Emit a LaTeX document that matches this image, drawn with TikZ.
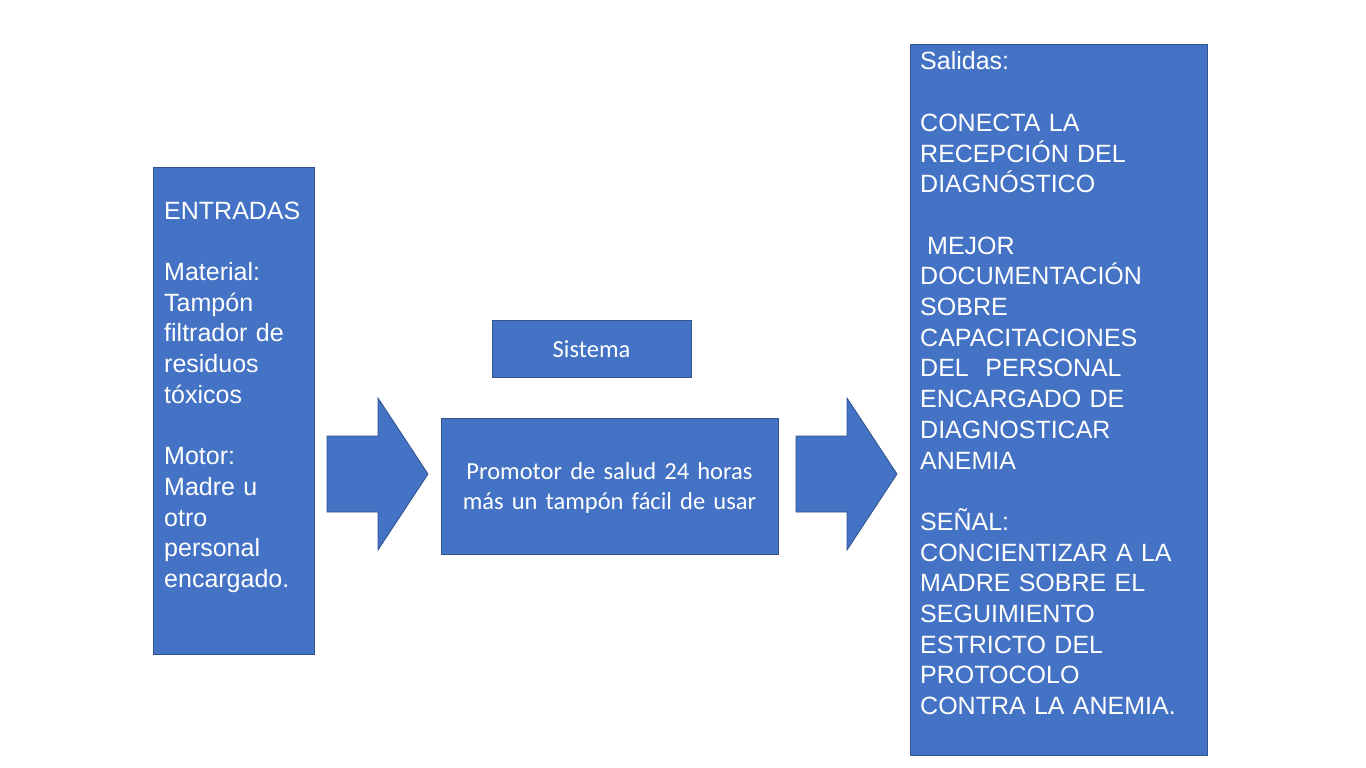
\documentclass[tikz,border=0pt]{standalone}
\usepackage{fontspec}
\newfontfamily\arialf{Liberation Sans}
\newfontfamily\calibf{Carlito}
\definecolor{boxfill}{HTML}{4472C4}
\definecolor{boxline}{HTML}{2F528F}
\tikzset{
  box/.style={draw=boxline, fill=boxfill, line width=1pt, inner sep=0pt, anchor=north west},
  atxt/.style={text=white, inner sep=0pt, anchor=base west, align=left,
     font={\arialf\fontsize{25}{30.7}\selectfont}},
  ctxt/.style={text=white, inner sep=0pt, font={\calibf\fontsize{24.5}{30}\selectfont}},
  blockarrow/.style={fill=boxfill, draw=boxline, line width=0.8pt, line join=miter}
}
\begin{document}
\begin{tikzpicture}[x=1pt,y=-1pt]
\path[fill=white, use as bounding box] (0,0) rectangle (1366,768);
% boxes
\node[box, minimum width=161pt, minimum height=487pt] (in) at (153,167) {};
\node[box, minimum width=297pt, minimum height=711pt] (out) at (910,44) {};
\node[box, minimum width=199pt, minimum height=57pt] (sis) at (492,320) {};
\node[box, minimum width=337pt, minimum height=136pt] (proc) at (441,418) {};
% texts
\node[atxt, text width=150pt] (intxt) at (164,219) {ENTRADAS\\[30.7pt]Material:\\Tampón\\filtrador de\\residuos\\tóxicos\\[30.7pt]Motor:\\Madre u\\otro\\personal\\encargado.};
\node[atxt, text width=290pt] (outtxt) at (920,70) {Salidas:\\[30.7pt]CONECTA LA\\RECEPCIÓN DEL\\DIAGNÓSTICO\\[30.7pt]\hspace*{7pt}MEJOR\\DOCUMENTACIÓN\\SOBRE\\CAPACITACIONES\\DEL\ \ PERSONAL\\ENCARGADO DE\\DIAGNOSTICAR\\ANEMIA\\[30.7pt]SEÑAL:\\CONCIENTIZAR A LA\\MADRE SOBRE EL\\SEGUIMIENTO\\ESTRICTO DEL\\PROTOCOLO\\CONTRA LA ANEMIA.};
\node[ctxt, anchor=base] (sistxt) at (591.5,357) {Sistema};
\node[ctxt, anchor=base, text width=330pt, align=center] (proctxt) at (609.5,479) {Promotor de salud 24 horas\\más un tampón fácil de usar};
% block arrows
\coordinate (a1) at (327,436);
\draw[blockarrow] (a1) -- (378,436) -- (378,398) -- (428,474) -- (378,550) -- (378,512) -- (327,512) -- cycle;
\coordinate (a2) at (796,436);
\draw[blockarrow] (a2) -- (847,436) -- (847,398) -- (897,474) -- (847,550) -- (847,512) -- (796,512) -- cycle;
\end{tikzpicture}
\end{document}
